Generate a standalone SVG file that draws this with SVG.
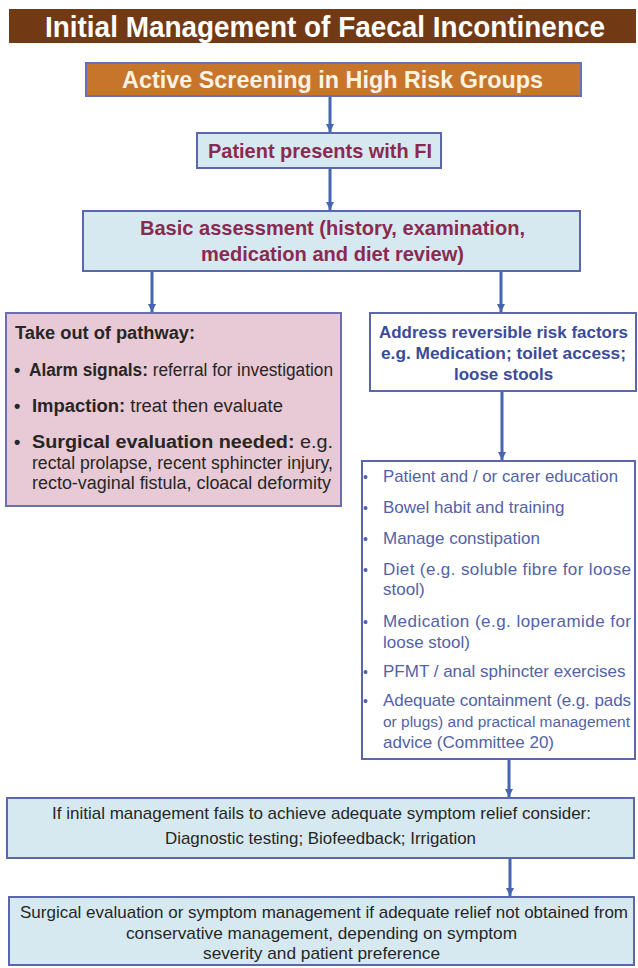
<svg xmlns="http://www.w3.org/2000/svg" width="638" height="968" viewBox="0 0 638 968">
<style>
text{font-family:"Liberation Sans",Arial,Helvetica,sans-serif}
.blue{fill:#d6e9f1;stroke:#5b67ad;stroke-width:2}
.white{fill:#ffffff;stroke:#5b67ad;stroke-width:2}
.pink{fill:#e7cad5;stroke:#6a6fae;stroke-width:2}
.mar{fill:#8a2a50;font-weight:bold;font-size:21px}
.dk{fill:#262626;font-size:18px}
.bl{fill:#3b4b9c;font-weight:bold;font-size:17px}
.lt{fill:#5262a8;font-size:17px}
.bt{fill:#262626;font-size:17px}
.conn line{stroke:#4566ae;stroke-width:3;marker-end:url(#ah)}
</style>
<defs>
<marker id="ah" viewBox="0 0 10 10" refX="10" refY="5" markerWidth="8" markerHeight="10" markerUnits="userSpaceOnUse" orient="auto">
<path d="M0,0 L10,5 L0,10 z" fill="#4566ae"/>
</marker>
</defs>
<rect width="638" height="968" fill="#ffffff"/>

<g id="title">
<rect x="9" y="9" width="627" height="34" fill="#713a14"/>
<text x="325" y="36.5" text-anchor="middle" font-size="29" font-weight="bold" fill="#ffffff" textLength="560" lengthAdjust="spacingAndGlyphs">Initial Management of Faecal Incontinence</text>
</g>

<g id="screening">
<rect x="86" y="63" width="495" height="33" fill="#c7752b" stroke="#6470b8" stroke-width="2"/>
<text x="332.5" y="87.5" text-anchor="middle" font-size="23" font-weight="bold" fill="#fdf3e2" textLength="421" lengthAdjust="spacingAndGlyphs">Active Screening in High Risk Groups</text>
</g>

<g id="patient">
<rect x="197" y="133" width="244" height="35" class="blue"/>
<text x="320" y="158" text-anchor="middle" class="mar" textLength="224" lengthAdjust="spacingAndGlyphs">Patient presents with FI</text>
</g>

<g id="assessment">
<rect x="83" y="211" width="497" height="60" class="blue"/>
<text x="332.5" y="234.5" text-anchor="middle" class="mar" textLength="385" lengthAdjust="spacingAndGlyphs">Basic assessment (history, examination,</text>
<text x="332.5" y="261" text-anchor="middle" class="mar" textLength="263" lengthAdjust="spacingAndGlyphs">medication and diet review)</text>
</g>

<g id="takeout">
<rect x="6" y="313" width="335" height="193" class="pink"/>
<text x="15" y="339" class="dk" font-weight="bold" textLength="180" lengthAdjust="spacingAndGlyphs">Take out of pathway:</text>
<text x="14" y="376" class="dk" font-weight="bold">•</text>
<text x="29" y="376" class="dk" textLength="304" lengthAdjust="spacingAndGlyphs"><tspan font-weight="bold">Alarm signals:</tspan> referral for investigation</text>
<text x="14" y="412" class="dk" font-weight="bold">•</text>
<text x="32" y="412" class="dk" textLength="251" lengthAdjust="spacingAndGlyphs"><tspan font-weight="bold">Impaction:</tspan> treat then evaluate</text>
<text x="14" y="448" class="dk" font-weight="bold">•</text>
<text x="32" y="448" class="dk" textLength="301" lengthAdjust="spacingAndGlyphs"><tspan font-weight="bold">Surgical evaluation needed:</tspan> e.g.</text>
<text x="32" y="468.5" class="dk" textLength="301" lengthAdjust="spacingAndGlyphs">rectal prolapse, recent sphincter injury,</text>
<text x="32" y="489" class="dk" textLength="299" lengthAdjust="spacingAndGlyphs">recto-vaginal fistula, cloacal deformity</text>
</g>

<g id="reversible">
<rect x="370" y="313" width="266" height="78" class="white"/>
<text x="503.5" y="338" text-anchor="middle" class="bl" textLength="249" lengthAdjust="spacingAndGlyphs">Address reversible risk factors</text>
<text x="503.5" y="359" text-anchor="middle" class="bl" textLength="245" lengthAdjust="spacingAndGlyphs">e.g. Medication; toilet access;</text>
<text x="503.5" y="380" text-anchor="middle" class="bl">loose stools</text>
</g>

<g id="measures">
<rect x="362" y="461" width="273" height="298" class="white"/>
<g class="lt">
<text x="363" y="482" font-size="14">•</text>
<text x="383" y="482" textLength="235" lengthAdjust="spacingAndGlyphs">Patient and / or carer education</text>
<text x="363" y="513" font-size="14">•</text>
<text x="383" y="513">Bowel habit and training</text>
<text x="363" y="544" font-size="14">•</text>
<text x="383" y="544">Manage constipation</text>
<text x="363" y="575" font-size="14">•</text>
<text x="383" y="575" textLength="248" lengthAdjust="spacing">Diet (e.g. soluble fibre for loose</text>
<text x="383" y="595">stool)</text>
<text x="363" y="627" font-size="14">•</text>
<text x="383" y="627" textLength="248" lengthAdjust="spacing">Medication (e.g. loperamide for</text>
<text x="383" y="648">loose stool)</text>
<text x="363" y="677" font-size="14">•</text>
<text x="383" y="677">PFMT / anal sphincter exercises</text>
<text x="363" y="706" font-size="14">•</text>
<text x="383" y="706" textLength="248" lengthAdjust="spacing">Adequate containment  (e.g. pads</text>
<text x="383" y="727" font-size="15.5" textLength="247" lengthAdjust="spacingAndGlyphs">or plugs) and practical management</text>
<text x="383" y="748">advice (Committee 20)</text>
</g>
</g>

<g id="failure">
<rect x="7" y="798" width="627" height="60" class="blue"/>
<text x="321.5" y="819" text-anchor="middle" class="bt" textLength="539" lengthAdjust="spacingAndGlyphs">If initial management fails to achieve adequate symptom relief consider:</text>
<text x="320.5" y="844" text-anchor="middle" class="bt" textLength="311" lengthAdjust="spacingAndGlyphs">Diagnostic testing; Biofeedback; Irrigation</text>
</g>

<g id="surgical">
<rect x="9" y="897" width="625" height="68" class="blue"/>
<text x="324" y="918" text-anchor="middle" class="bt" textLength="608" lengthAdjust="spacingAndGlyphs">Surgical evaluation or symptom management if adequate relief not obtained from</text>
<text x="321.5" y="939" text-anchor="middle" class="bt" textLength="391" lengthAdjust="spacingAndGlyphs">conservative management, depending on symptom</text>
<text x="321.5" y="959" text-anchor="middle" class="bt" textLength="237" lengthAdjust="spacingAndGlyphs">severity and patient preference</text>
</g>

<g id="connectors" class="conn">
<line x1="330" y1="97" x2="330" y2="132"/>
<line x1="330" y1="169" x2="330" y2="210"/>
<line x1="152" y1="272" x2="152" y2="312"/>
<line x1="501" y1="272" x2="501" y2="312"/>
<line x1="502" y1="392" x2="502" y2="460"/>
<line x1="509" y1="760" x2="509" y2="797"/>
<line x1="510" y1="859" x2="510" y2="896"/>
</g>
</svg>
